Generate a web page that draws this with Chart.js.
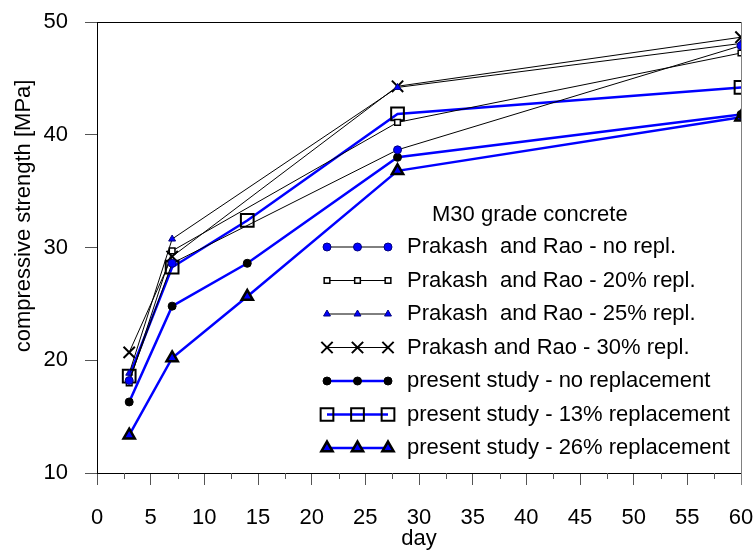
<!DOCTYPE html>
<html>
<head>
<meta charset="utf-8">
<script src="https://cdn.jsdelivr.net/npm/chart.js@4.4.0/dist/chart.umd.min.js"></script>
<style>
  html, body { margin: 0; padding: 0; background: #fff; }
  #wrap { width: 753px; height: 550px; }
</style>
</head>
<body>
<div id="wrap"><canvas id="c" width="753" height="550"></canvas></div>
<script>
// ages (days) for each source
const prakashDays = [3, 7, 28, 60];
const presentDays = [3, 7, 14, 28, 60];

// compressive strength [MPa]
const prakashNoRepl = [18.2, 28.6, 38.66, 47.9];
const prakash20 = [18.0, 29.7, 41.1, 47.25];
const prakash25 = [18.85, 30.75, 44.2, 48.1];
const prakash30 = [20.7, 29.2, 44.3, 48.65];
const presentNoRepl = [16.3, 24.8, 28.6, 38.0, 41.8];
const present13 = [18.6, 28.25, 32.4, 41.85, 44.2];
const present26 = [13.35, 20.2, 25.65, 36.8, 41.55];

const xTicks = [0, 5, 10, 15, 20, 25, 30, 35, 40, 45, 50, 55, 60];
const yTicks = [10, 20, 30, 40, 50];

const legendTitle = 'M30 grade concrete';
const yTitle = 'compressive strength [MPa]';
const FONT = '"Liberation Sans", Arial, sans-serif';

const pts = (xs, ys) => xs.map((x, i) => ({ x: x, y: ys[i] }));

const datasets = [
  { label: 'Prakash  and Rao - no repl.', data: pts(prakashDays, prakashNoRepl),
    borderColor: '#000', borderWidth: 1, pointStyle: 'circle', pointRadius: 4,
    pointBackgroundColor: '#0000ff', pointBorderColor: '#000080', pointBorderWidth: 1 },
  { label: 'Prakash  and Rao - 20% repl.', data: pts(prakashDays, prakash20),
    borderColor: '#000', borderWidth: 1, pointStyle: 'rect', pointRadius: 4,
    pointBackgroundColor: '#fff', pointBorderColor: '#000', pointBorderWidth: 1.5 },
  { label: 'Prakash  and Rao - 25% repl.', data: pts(prakashDays, prakash25),
    borderColor: '#000', borderWidth: 1, pointStyle: 'triangle', pointRadius: 4,
    pointBackgroundColor: '#0000ff', pointBorderColor: '#000080', pointBorderWidth: 1 },
  { label: 'Prakash and Rao - 30% repl.', data: pts(prakashDays, prakash30),
    borderColor: '#000', borderWidth: 1, pointStyle: 'crossRot', pointRadius: 8,
    pointBackgroundColor: '#000', pointBorderColor: '#000', pointBorderWidth: 2 },
  { label: 'present study - no replacement', data: pts(presentDays, presentNoRepl),
    borderColor: '#0000ff', borderWidth: 2.5, pointStyle: 'circle', pointRadius: 4,
    pointBackgroundColor: '#000', pointBorderColor: '#000', pointBorderWidth: 1 },
  { label: 'present study - 13% replacement', data: pts(presentDays, present13),
    borderColor: '#0000ff', borderWidth: 2.5, pointStyle: 'rect', pointRadius: 9,
    pointBackgroundColor: 'rgba(0,0,0,0)', pointBorderColor: '#000', pointBorderWidth: 2 },
  { label: 'present study - 26% replacement', data: pts(presentDays, present26),
    borderColor: '#0000ff', borderWidth: 2.5, pointStyle: 'triangle', pointRadius: 6.5,
    pointBackgroundColor: '#0000ff', pointBorderColor: '#000', pointBorderWidth: 2.5 },
];
datasets.forEach(d => { d.showLine = true; d.fill = false; d.tension = 0; d.pointHoverRadius = d.pointRadius; });

// keep the plot box where the original has it: no extra room for edge labels
const pinPadding = s => { s.paddingLeft = 0; s.paddingRight = 0; s.paddingTop = 0; s.paddingBottom = 0; };

// frame, minor x ticks, y title and the in-plot legend
const extras = {
  id: 'extras',
  afterDraw(chart) {
    const { ctx, chartArea: a, scales } = chart;
    ctx.save();
    // top + right frame
    ctx.lineWidth = 1;
    ctx.strokeStyle = '#000';
    ctx.beginPath(); ctx.moveTo(a.left, a.top + 0.5); ctx.lineTo(a.right, a.top + 0.5); ctx.stroke();
    ctx.strokeStyle = '#808080';
    ctx.beginPath(); ctx.moveTo(a.right + 0.5, a.top); ctx.lineTo(a.right + 0.5, a.bottom + 12); ctx.stroke();
    // minor x ticks
    ctx.strokeStyle = '#555';
    for (let v = 2.5; v < 60; v += 5) {
      const px = Math.round(scales.x.getPixelForValue(v)) + 0.5;
      ctx.beginPath(); ctx.moveTo(px, a.bottom); ctx.lineTo(px, a.bottom + 6); ctx.stroke();
    }
    // y axis title (sits a bit above the axis centre in the original)
    ctx.fillStyle = '#000';
    ctx.font = '22px ' + FONT;
    ctx.textAlign = 'center';
    ctx.textBaseline = 'middle';
    ctx.translate(24, scales.y.getPixelForValue(32.8));
    ctx.rotate(-Math.PI / 2);
    ctx.fillText(yTitle, 0, 0);
    ctx.setTransform(1, 0, 0, 1, 0, 0);
    // legend
    const x0 = a.left + 230, x1 = a.left + 291, tx = a.left + 310;
    const rowY = (i) => a.top + 225 + i * 33.5;
    ctx.textAlign = 'left';
    ctx.fillText(legendTitle, a.left + 335, a.top + 193);
    chart.data.datasets.forEach((d, i) => {
      const y = rowY(i);
      ctx.strokeStyle = d.borderColor;
      ctx.lineWidth = d.borderWidth;
      ctx.beginPath(); ctx.moveTo(x0, y); ctx.lineTo(x1, y); ctx.stroke();
      [x0, (x0 + x1) / 2, x1].forEach(mx => {
        ctx.fillStyle = d.pointBackgroundColor;
        ctx.strokeStyle = d.pointBorderColor;
        ctx.lineWidth = d.pointBorderWidth;
        Chart.helpers.drawPoint(ctx, { pointStyle: d.pointStyle, radius: d.pointRadius, rotation: 0, borderWidth: d.pointBorderWidth }, mx, y);
      });
      ctx.fillStyle = '#000';
      ctx.fillText(d.label, tx, y);
    });
    ctx.restore();
  }
};

new Chart(document.getElementById('c'), {
  type: 'scatter',
  data: { datasets: datasets },
  options: {
    animation: false,
    responsive: false,
    layout: { padding: { top: 22, right: 12, left: 0, bottom: 0 } },
    plugins: { legend: { display: false }, tooltip: { enabled: false } },
    scales: {
      x: {
        type: 'linear', min: 0, max: 60,
        afterFit: s => { s.height = 77; pinPadding(s); },
        afterBuildTicks: s => { s.ticks = xTicks.map(v => ({ value: v })); },
        ticks: { color: '#000', font: { family: FONT, size: 22 }, padding: 20, maxRotation: 0, autoSkip: false },
        grid: { drawOnChartArea: false, tickLength: 12, tickColor: '#555' },
        border: { color: '#000', width: 1 },
        title: { display: true, text: 'day', color: '#000', font: { family: FONT, size: 22 }, padding: { top: 0, bottom: -2 } }
      },
      y: {
        type: 'linear', min: 10, max: 50,
        afterFit: s => { s.width = 97; pinPadding(s); },
        afterBuildTicks: s => { s.ticks = yTicks.map(v => ({ value: v })); },
        ticks: { color: '#000', font: { family: FONT, size: 22 }, padding: 17 },
        grid: { drawOnChartArea: false, tickLength: 12, tickColor: '#555' },
        border: { color: '#000', width: 1 }
      }
    }
  },
  plugins: [extras]
});
</script>
</body>
</html>
